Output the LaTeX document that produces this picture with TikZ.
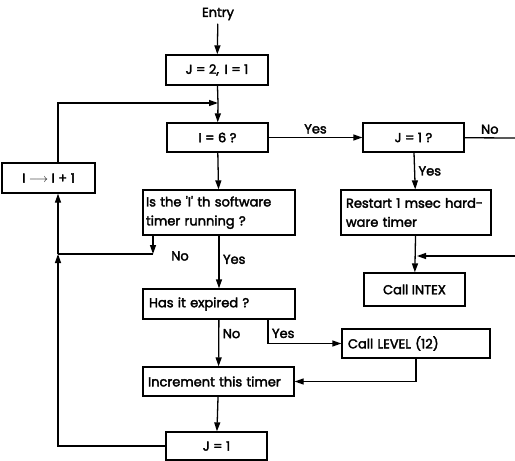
\documentclass[tikz,border=0pt]{standalone}
\usepackage{fontspec}
\setmainfont{Poppins}[FakeBold=2.5]
\usetikzlibrary{arrows.meta}

\tikzset{
  box/.style={draw, line width=1.3pt, inner xsep=4pt, inner ysep=0pt, align=center},
  leftbox/.style={box, align=left},
  flow/.style={-{Triangle[length=9pt,width=6pt]}, line width=1.3pt},
  wire/.style={line width=1.3pt},
}

\begin{document}
\begin{tikzpicture}[x=1pt, y=-1pt, font=\fontsize{13}{19}\selectfont]
  \useasboundingbox (0,0) rectangle (515,461);

  % main column
  \node (entry) at (218,14) {Entry};
  \node[box, minimum width=102pt, minimum height=30pt] (init) at (217,70) {J = 2,\, I = 1};
  \node[box, minimum width=101pt, minimum height=29pt] (ask6) at (217.5,137.5) {I = 6 ?};
  \node[leftbox, text width=146pt, inner xsep=3pt, minimum height=45pt] (running) at (219,212.5)
    {Is the \textquotesingle I\textquotesingle\ th software\\timer running ?};
  \node[leftbox, text width=140pt, inner xsep=6pt, minimum height=30pt] (expired) at (219,304) {Has it expired ?};
  \node[leftbox, text width=141pt, inner xsep=5pt, minimum height=29pt] (increment) at (218.5,381.5) {Increment this timer};
  \node[box, minimum width=101pt, minimum height=28pt] (jone) at (216.5,446) {J = 1};

  % loop counter
  \node[box, minimum width=93pt, minimum height=30pt] (incr) at (48.5,178) {I $\longrightarrow$ I + 1};

  % right column
  \node[box, minimum width=101pt, minimum height=29pt] (askJ) at (413.5,137.5) {J = 1 ?};
  \node[leftbox, text width=140pt, inner xsep=5pt, minimum height=45pt] (restart) at (416,212.5)
    {Restart 1 msec hard-\\ware timer};
  \node[box, minimum width=101pt, minimum height=33pt] (intex) at (414.5,289.5) {Call INTEX};
  \node[leftbox, text width=136pt, inner xsep=6pt, minimum height=29pt] (level) at (416,343.5) {Call LEVEL (12)};

  % junctions and loose ends
  \coordinate (top) at (218,103);
  \coordinate (noturn) at (153,254);
  \coordinate (leftup) at (58,254);
  \coordinate (outA) at (515,138);
  \coordinate (outB) at (515,256);
  \coordinate (joinB) at (417,256);

  % connectors
  \draw[flow] (entry) -- (init);
  \draw[wire] (init) -- (top);
  \draw[flow] (top) -- (ask6);
  \draw[flow] (incr.north -| leftup) |- (top);
  \draw[flow] (ask6) -- (running);
  \draw[flow] (ask6) -- node[above] {Yes} (askJ);
  \draw[wire] (askJ) -- node[above] {No} (outA);
  \draw[flow] (askJ) -- node[right] {Yes} (restart);
  \draw[flow] (restart) -- (intex);
  \draw[flow] (outB) -- (joinB);

  \draw[flow] (running.south -| noturn) -- (noturn);
  \draw[wire] (noturn) -- (leftup);
  \node at (180,256) {No};
  \draw[flow] (jone.west) -| (leftup);
  \draw[flow] (leftup) -- (incr.south -| leftup);

  \draw[flow] (running) -- node[pos=0.45, right] {Yes} (expired);
  \draw[flow] (expired) -- node[pos=0.3, right] {No} (increment);
  \draw[flow] (expired.south -| 268,0) |- node[pos=0.29, right] {Yes} (level);
  \draw[flow] (level.south) |- (increment.east);
  \draw[flow] (increment) -- (jone);
\end{tikzpicture}
\end{document}
